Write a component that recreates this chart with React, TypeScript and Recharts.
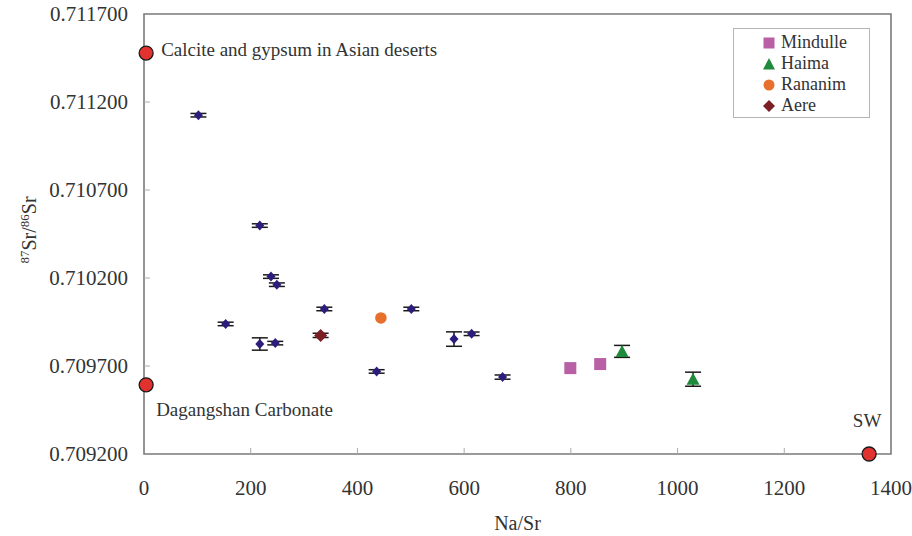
import {
  ScatterChart, Scatter, XAxis, YAxis, ErrorBar, ReferenceArea, ReferenceLine, Legend
} from 'recharts';

const xTicks = [0, 200, 400, 600, 800, 1000, 1200, 1400];
const yTicks = [0.7092, 0.7097, 0.7102, 0.7107, 0.7112, 0.7117];

// unnamed samples (navy diamonds)
const sampleNaSr = [102, 217, 238, 249, 153, 217, 246, 338, 501, 436, 581, 614, 672];
const sampleSr = [0.711125, 0.710498, 0.710208, 0.710162, 0.709939, 0.709825, 0.70983, 0.710024, 0.710024, 0.709669, 0.709853, 0.709883, 0.709637];
const sampleErr = [0.00001, 0.00001, 0.00001, 0.00001, 0.00001, 0.000035, 0.00001, 0.00001, 0.00001, 0.00001, 0.000041, 0.00001, 0.000012];

const mindulleNaSr = [799, 855];
const mindulleSr = [0.709688, 0.709711];

const haimaNaSr = [896, 1029];
const haimaSr = [0.709783, 0.709625];
const haimaErr = [0.000034, 0.00004];

const rananimNaSr = [444];
const rananimSr = [0.709973];

const aereNaSr = [331];
const aereSr = [0.709874];
const aereErr = [0.000012];

// end members
const endNames = ['Calcite and gypsum in Asian deserts', 'Dagangshan Carbonate', 'SW'];
const endNaSr = [4, 4, 1359];
const endSr = [0.711478, 0.709593, 0.7092];

const zip = (xs: number[], ys: number[], errs?: number[], names?: string[]) =>
  xs.map((x, i) => ({ x, y: ys[i], err: errs ? errs[i] : 0, name: names ? names[i] : '' }));

const samples = zip(sampleNaSr, sampleSr, sampleErr);
const mindulle = zip(mindulleNaSr, mindulleSr);
const haima = zip(haimaNaSr, haimaSr, haimaErr);
const rananim = zip(rananimNaSr, rananimSr);
const aere = zip(aereNaSr, aereSr, aereErr);
const endMembers = zip(endNaSr, endSr, undefined, endNames);

const NAVY = '#2B1D7C';
const PINK = '#B85FA6';
const GREEN = '#1F8A3C';
const ORANGE = '#E8702C';
const MAROON = '#7B1F24';
const RED = '#E2322F';
const FONT = '"Liberation Serif", "DejaVu Serif", serif';
const TEXT = '#333';

const endLabelPos: Record<string, { dx: number; dy: number; anchor: string }> = {
  'Calcite and gypsum in Asian deserts': { dx: 15, dy: 3, anchor: 'start' },
  'Dagangshan Carbonate': { dx: 10, dy: 31, anchor: 'start' },
  SW: { dx: -2, dy: -27, anchor: 'middle' },
};

const NavyDiamond = (p: any) => (
  <path d={`M${p.cx},${p.cy - 5}L${p.cx + 4.5},${p.cy}L${p.cx},${p.cy + 5}L${p.cx - 4.5},${p.cy}Z`} fill={NAVY} />
);
const Square = (p: any) => <rect x={p.cx - 6} y={p.cy - 6} width={12} height={12} fill={PINK} />;
const Triangle = (p: any) => (
  <path d={`M${p.cx},${p.cy - 6.5}L${p.cx + 6.5},${p.cy + 5.5}L${p.cx - 6.5},${p.cy + 5.5}Z`} fill={GREEN} />
);
const Dot = (p: any) => <circle cx={p.cx} cy={p.cy} r={5.8} fill={ORANGE} />;
const Diamond = (p: any) => (
  <path d={`M${p.cx},${p.cy - 6.5}L${p.cx + 6.5},${p.cy}L${p.cx},${p.cy + 6.5}L${p.cx - 6.5},${p.cy}Z`} fill={MAROON} />
);
const EndMember = (p: any) => {
  const pos = endLabelPos[p.payload?.name] || { dx: 10, dy: 0, anchor: 'start' };
  return (
    <g>
      <circle cx={p.cx} cy={p.cy} r={7} fill={RED} stroke="#1a1a1a" strokeWidth={1.3} />
      <text x={p.cx + pos.dx} y={p.cy + pos.dy} textAnchor={pos.anchor as any}
        fontFamily={FONT} fontSize={19} fill={TEXT}>{p.payload?.name}</text>
    </g>
  );
};

const XTick = ({ x, y, payload }: any) => (
  <text x={x} y={y + 41} textAnchor="middle" fontFamily={FONT} fontSize={21} fill={TEXT}>
    {payload.value}
  </text>
);
const YTick = ({ x, y, payload }: any) => (
  <text x={x - 16} y={y + 7} textAnchor="end" fontFamily={FONT} fontSize={21} fill={TEXT}>
    {Number(payload.value).toFixed(6)}
  </text>
);

const XLabel = ({ viewBox }: any) => {
  const vb = viewBox || { x: 144, y: 454, width: 747 };
  return (
    <text x={vb.x + vb.width / 2} y={vb.y + 76} textAnchor="middle" fontFamily={FONT} fontSize={20} fill={TEXT}>
      Na/Sr
    </text>
  );
};
const YLabel = ({ viewBox }: any) => {
  const vb = viewBox || { y: 14, height: 440 };
  const cy = vb.y + vb.height / 2 - 4;
  return (
    <text transform={`translate(36,${cy}) rotate(-90)`} textAnchor="middle" fontFamily={FONT} fill={TEXT}>
      <tspan fontSize={13} dy={-7}>87</tspan>
      <tspan fontSize={20} dy={7}>Sr/</tspan>
      <tspan fontSize={13} dy={-7}>86</tspan>
      <tspan fontSize={20} dy={7}>Sr</tspan>
    </text>
  );
};

const legendRows = [
  { label: 'Mindulle', icon: <rect x={1.5} y={1.5} width={11} height={11} fill={PINK} /> },
  { label: 'Haima', icon: <path d="M7,1L13,12.5L1,12.5Z" fill={GREEN} /> },
  { label: 'Rananim', icon: <circle cx={7} cy={7} r={5.5} fill={ORANGE} /> },
  { label: 'Aere', icon: <path d="M7,1L13,7L7,13L1,7Z" fill={MAROON} /> },
];

const LegendBox = () => (
  <div style={{ border: '1px solid #b5b5b5', background: '#fff', height: 90, paddingTop: 3, boxSizing: 'border-box' }}>
    {legendRows.map((r) => (
      <div key={r.label} style={{ display: 'flex', alignItems: 'center', height: 21 }}>
        <svg width={14} height={14} style={{ marginLeft: 28 }}>{r.icon}</svg>
        <span style={{ marginLeft: 5, fontFamily: FONT, fontSize: 18, color: TEXT, lineHeight: '21px' }}>{r.label}</span>
      </div>
    ))}
  </div>
);

const innerY = yTicks.slice(1, -1);
const innerX = xTicks.slice(1, -1);

export default function App() {
  return (
    <div style={{ position: 'absolute', left: 0, top: 0, width: 912, height: 536, background: '#fff' }}>
      <ScatterChart width={912} height={536} margin={{ top: 14, right: 21, bottom: 0, left: 0 }}>
        <XAxis type="number" dataKey="x" domain={[0, 1400]} ticks={xTicks} height={82}
          axisLine={false} tickLine={false} tickSize={0} tickMargin={0} tick={<XTick />}
          label={<XLabel />} />
        <YAxis type="number" dataKey="y" domain={[0.7092, 0.7117]} ticks={yTicks} width={144}
          axisLine={false} tickLine={false} tickSize={0} tickMargin={0} tick={<YTick />}
          label={<YLabel />} />
        <ReferenceArea x1={0} x2={1400} y1={0.7092} y2={0.7117} fill="none" stroke="#7a7a7a" strokeWidth={1.6} />
        {innerY.map((v) => (
          <ReferenceLine key={`y${v}`} segment={[{ x: 0, y: v }, { x: 11, y: v }]} stroke="#aaa" strokeWidth={1} />
        ))}
        {innerX.map((v) => (
          <ReferenceLine key={`x${v}`} segment={[{ x: v, y: 0.7092 }, { x: v, y: 0.709234 }]} stroke="#aaa" strokeWidth={1} />
        ))}
        <Scatter name="samples" data={samples} shape={NavyDiamond} legendType="none" isAnimationActive={false}>
          <ErrorBar dataKey="err" direction="y" width={8} stroke="#1a1a1a" strokeWidth={1.5} />
        </Scatter>
        <Scatter name="Mindulle" data={mindulle} shape={Square} isAnimationActive={false} />
        <Scatter name="Haima" data={haima} shape={Triangle} isAnimationActive={false}>
          <ErrorBar dataKey="err" direction="y" width={8} stroke="#1a1a1a" strokeWidth={1.5} />
        </Scatter>
        <Scatter name="Rananim" data={rananim} shape={Dot} isAnimationActive={false} />
        <Scatter name="Aere" data={aere} shape={Diamond} isAnimationActive={false}>
          <ErrorBar dataKey="err" direction="y" width={8} stroke="#1a1a1a" strokeWidth={1.5} />
        </Scatter>
        <Scatter name="end members" data={endMembers} shape={EndMember} legendType="none" isAnimationActive={false} />
        <Legend layout="horizontal" verticalAlign="middle" align="center" content={<LegendBox />}
          wrapperStyle={{ left: 733, top: 28, width: 137, height: 90 }} />
      </ScatterChart>
    </div>
  );
}
